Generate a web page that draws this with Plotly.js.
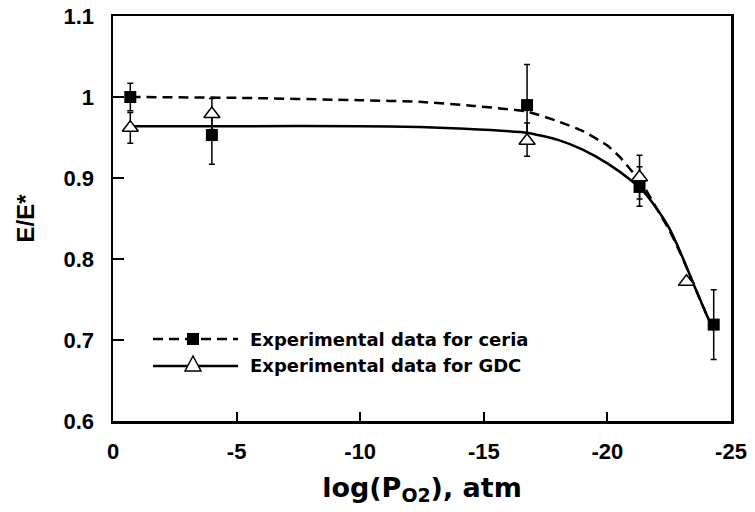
<!DOCTYPE html>
<html>
<head>
<meta charset="utf-8">
<script src="https://cdn.plot.ly/plotly-3.0.1.min.js"></script>
<style>html,body{margin:0;padding:0;background:#fff;}#chart{width:755px;height:512px;}</style>
</head>
<body>
<div id="chart"></div>
<script>
// Experimental data: ceria (filled squares)
const xCeria = [-0.7, -4.0, -16.75, -21.3, -24.3];
const yCeria = [1.0, 0.953, 0.99, 0.889, 0.719];
const errCeriaPlus = [0.017, 0.03, 0.05, 0.025, 0.043];
const errCeriaMinus = [0.017, 0.036, 0.04, 0.024, 0.043];

// Experimental data: GDC (open triangles)
const xGdc = [-0.7, -4.0, -16.75, -21.3, -23.2];
const yGdc = [0.962, 0.979, 0.946, 0.901, 0.772];
const errGdcPlus = [0.019, 0.019, 0.022, 0.027, 0.0];
const errGdcMinus = [0.019, 0.019, 0.019, 0.027, 0.0];

// Model curves
const fitCeriaX = [-0.7, -5, -10, -12.4, -14.6, -16.75, -18, -19, -20, -20.5, -21, -21.5, -22, -22.5, -23, -23.5, -24, -24.3];
const fitCeriaY = [1.0, 0.999, 0.996, 0.994, 0.989, 0.982, 0.970, 0.958, 0.940, 0.926, 0.908, 0.888, 0.862, 0.836, 0.804, 0.768, 0.732, 0.712];
const fitGdcX = [-0.7, -5, -10, -12.4, -14, -16.75, -18, -19, -20, -21, -21.5, -22, -22.5, -23, -23.5, -24, -24.3];
const fitGdcY = [0.964, 0.964, 0.964, 0.963, 0.961, 0.956, 0.947, 0.935, 0.918, 0.896, 0.882, 0.862, 0.838, 0.805, 0.768, 0.732, 0.712];

// Tick labels
const xTicks = [0, -5, -10, -15, -20, -25];
const xTickText = ['0', '-5', '-10', '-15', '-20', '-25'];
const yTicks = [0.6, 0.7, 0.8, 0.9, 1.0, 1.1];
const yTickText = ['0.6', '0.7', '0.8', '0.9', '1', '1.1'];

const legendLabels = ['Experimental data for ceria', 'Experimental data for GDC'];

const FONT = 'Liberation Sans, Arial, Helvetica, sans-serif';
const WIDE = 'DejaVu Sans, Liberation Sans, sans-serif';
const W = 755, H = 512;
const M = {l: 113, r: 24, t: 16, b: 91};
const PW = W - M.l - M.r, PH = H - M.t - M.b;
const px = x => (x - M.l) / PW;
const py = y => (H - M.b - y) / PH;

const traces = [
  {x: fitCeriaX, y: fitCeriaY, mode: 'lines', line: {color: '#000', width: 2.5, dash: '10px,6px', shape: 'spline', smoothing: 0.5}, showlegend: false, hoverinfo: 'skip'},
  {x: fitGdcX, y: fitGdcY, mode: 'lines', line: {color: '#000', width: 2.5, shape: 'spline', smoothing: 0.5}, showlegend: false, hoverinfo: 'skip'},
  {x: xCeria, y: yCeria, mode: 'markers', marker: {symbol: 'square', size: 12, color: '#000'},
   error_y: {type: 'data', array: errCeriaPlus, arrayminus: errCeriaMinus, color: '#000', thickness: 1.5, width: 3}, showlegend: false},
  {x: xGdc, y: yGdc, mode: 'markers', marker: {symbol: 'triangle-up', size: 14, color: '#fff', line: {color: '#000', width: 1.5}},
   error_y: {type: 'data', array: errGdcPlus, arrayminus: errGdcMinus, color: '#000', thickness: 1.5, width: 3}, showlegend: false}
];

const r1 = 339, r2 = 366, lx0 = 153, lx1 = 238, lxm = 193;
const shapes = [
  {type: 'line', xref: 'paper', yref: 'paper', x0: px(lx0), x1: px(lx1), y0: py(r1), y1: py(r1), line: {color: '#000', width: 2.5, dash: '10px,6px'}},
  {type: 'rect', xref: 'paper', yref: 'paper', x0: px(lxm - 6), x1: px(lxm + 6), y0: py(r1 + 6), y1: py(r1 - 6), fillcolor: '#000', line: {width: 0}},
  {type: 'line', xref: 'paper', yref: 'paper', x0: px(lx0), x1: px(lx1), y0: py(r2), y1: py(r2), line: {color: '#000', width: 2.5}},
  {type: 'path', xref: 'paper', yref: 'paper', path: `M ${px(lxm - 8)} ${py(r2 + 5)} L ${px(lxm + 8)} ${py(r2 + 5)} L ${px(lxm)} ${py(r2 - 10)} Z`, fillcolor: '#fff', line: {color: '#000', width: 1.5}}
];

const annotations = [
  {xref: 'paper', yref: 'paper', x: px(248), y: py(r1), xanchor: 'left', yanchor: 'middle', text: legendLabels[0], showarrow: false, font: {family: WIDE, size: 18, color: '#000', weight: 'bold'}},
  {xref: 'paper', yref: 'paper', x: px(248), y: py(r2 - 1), xanchor: 'left', yanchor: 'middle', text: legendLabels[1], showarrow: false, font: {family: WIDE, size: 18, color: '#000', weight: 'bold'}}
];

const axisCommon = {showgrid: false, zeroline: false, showline: true, linecolor: '#000', linewidth: 2.5, mirror: true,
  ticks: 'inside', tickcolor: '#000', tickwidth: 2, tickmode: 'array',
  tickfont: {family: FONT, size: 22, color: '#000', weight: 'bold'}};

const layout = {
  width: W, height: H, margin: M, paper_bgcolor: '#fff', plot_bgcolor: '#fff', showlegend: false,
  xaxis: Object.assign({}, axisCommon, {range: [0, -25], tickvals: xTicks, ticktext: xTickText, ticklen: 9, ticklabelstandoff: 9,
    title: {text: 'log(P<sub>O2</sub>), atm', font: {family: WIDE, size: 27, color: '#000', weight: 'bold'}, standoff: 15}}),
  yaxis: Object.assign({}, axisCommon, {range: [0.6, 1.1], tickvals: yTicks, ticktext: yTickText, ticklen: 11, ticklabelstandoff: 12,
    title: {text: 'E/E*', font: {family: FONT, size: 24, color: '#000', weight: 'bold'}, standoff: 22}}),
  shapes: shapes, annotations: annotations
};

Plotly.newPlot('chart', traces, layout, {staticPlot: true, displayModeBar: false});
</script>
</body>
</html>
